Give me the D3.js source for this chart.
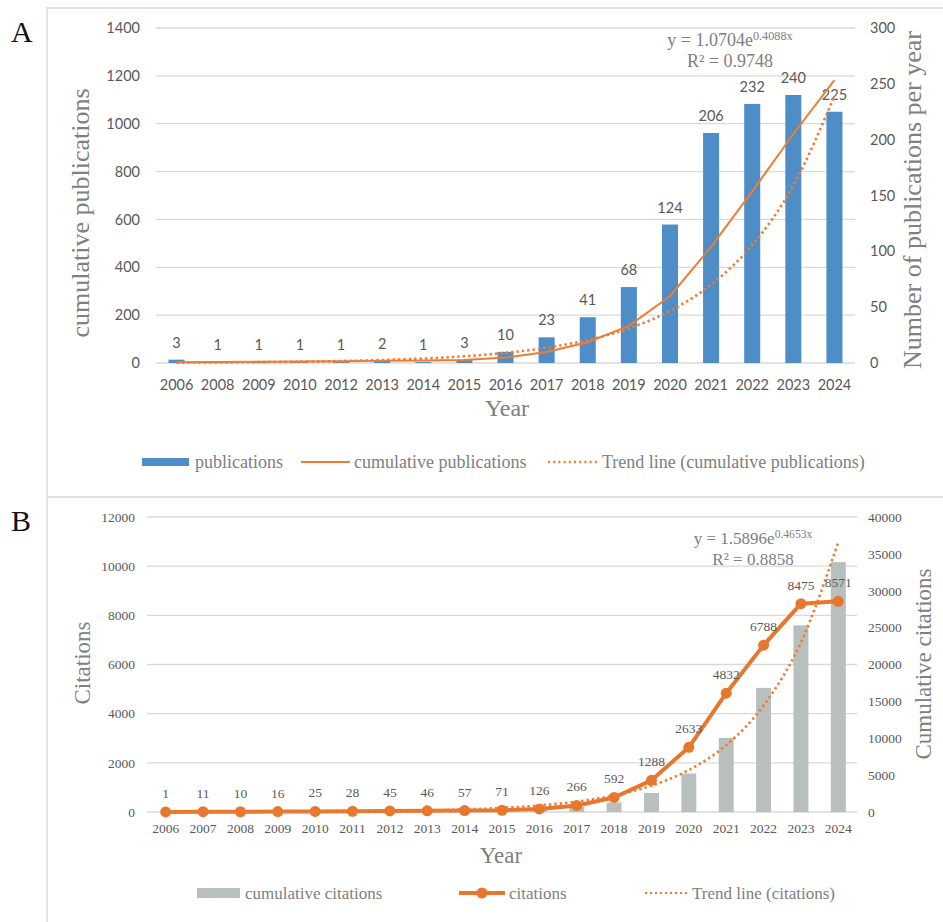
<!DOCTYPE html>
<html>
<head>
<meta charset="utf-8">
<script src="https://cdn.jsdelivr.net/npm/d3@7"></script>
<style>
  body { margin: 0; background: #fff; }
  svg { display: block; }
  .sans { font-family: Lato, "Liberation Sans", sans-serif; }
  .serif { font-family: "Liberation Serif", "Times New Roman", serif; }
</style>
</head>
<body>
<div id="chart"></div>
<script>
// ---- panel A data ----
const yearsA = ["2006","2008","2009","2010","2012","2013","2014","2015","2016",
  "2017","2018","2019","2020","2021","2022","2023","2024"];
const publications = [3,1,1,1,1,2,1,3,10,23,41,68,124,206,232,240,225];
const cumulativePublications = [3,4,5,6,7,9,10,13,23,46,87,155,279,485,717,957,1182];
const trendPublications = [1.6,2.4,3.6,5.5,8.3,12.4,18.7,28.2,42.4,63.8,96.1,144.5,217.5,327.4,492.7,741.6,1116];
const ticksCumPub = [0,200,400,600,800,1000,1200,1400];
const ticksPubYear = [0,50,100,150,200,250,300];

// ---- panel B data ----
const yearsB = ["2006","2007","2008","2009","2010","2011","2012","2013","2014","2015",
  "2016","2017","2018","2019","2020","2021","2022","2023","2024"];
const citations = [1,11,10,16,25,28,45,46,57,71,126,266,592,1288,2633,4832,6788,8475,8571];
const cumulativeCitations = [1,12,22,38,63,91,136,182,239,310,436,702,1294,2582,5215,10047,16835,25310,33881];
const trendCitations = [2.5,4.0,6.4,10.2,16.3,25.9,41.3,65.8,104.7,166.8,265.6,423.0,673.6,1072.8,1708,2720,4332,6899,10987];
const ticksCitations = [0,2000,4000,6000,8000,10000,12000];
const ticksCumCit = [0,5000,10000,15000,20000,25000,30000,35000,40000];

const W = 943, H = 922;
const orange = "#ed7d31";
const grid = "#d9d9d9";
const tickColor = "#595959";
const titleColor = "#808080";
const fmt = d3.format("d");

const svg = d3.select("#chart").append("svg")
  .attr("width", W).attr("height", H);
svg.append("rect").attr("width", W).attr("height", H).attr("fill", "#fff");

// panel frames
svg.append("rect").attr("x", 47).attr("y", 8).attr("width", 910).attr("height", 489)
  .attr("fill", "none").attr("stroke", "#e3e3e3").attr("stroke-width", 2);
svg.append("rect").attr("x", 47).attr("y", 497).attr("width", 910).attr("height", 440)
  .attr("fill", "none").attr("stroke", "#e3e3e3").attr("stroke-width", 2);

svg.append("text").attr("class", "serif").attr("x", 11).attr("y", 42)
  .attr("font-size", 30).attr("fill", "#111").text("A");
svg.append("text").attr("class", "serif").attr("x", 11).attr("y", 531)
  .attr("font-size", 30).attr("fill", "#111").text("B");

function gridLines(g, scale, ticks, x0, x1) {
  g.append("g").selectAll("line").data(ticks).join("line")
    .attr("x1", x0).attr("x2", x1)
    .attr("y1", d => scale(d)).attr("y2", d => scale(d))
    .attr("stroke", grid).attr("stroke-width", 1.3);
}

function styleAxis(g, cls, size) {
  g.select(".domain").remove();
  g.selectAll("text").attr("class", cls).attr("font-size", size).attr("fill", tickColor);
}

function equation(g, x, y, a, b, r2, size) {
  const t = g.append("text").attr("class", "serif").attr("x", x).attr("y", y)
    .attr("text-anchor", "middle").attr("font-size", size).attr("fill", titleColor);
  t.append("tspan").text(`y = ${a}e`);
  t.append("tspan").attr("font-size", size * 0.68).attr("dy", -size * 0.33).text(`${b}x`);
  g.append("text").attr("class", "serif").attr("x", x).attr("y", y + 21)
    .attr("text-anchor", "middle").attr("font-size", size).attr("fill", titleColor)
    .text(`R\u00B2 = ${r2}`);
}

// ================= panel A =================
function drawPanelA() {
  const g = svg.append("g");
  const x = d3.scaleBand().domain(yearsA).range([156, 855]).paddingInner(0.61).paddingOuter(0.305);
  const yL = d3.scaleLinear().domain([0, 1400]).range([363, 28]);
  const yR = d3.scaleLinear().domain([0, 300]).range([363, 28]);
  const cx = d => x(d) + x.bandwidth() / 2;

  gridLines(g, yL, ticksCumPub, 156, 855);

  g.append("g").attr("transform", "translate(156,0)")
    .call(d3.axisLeft(yL).tickValues(ticksCumPub).tickFormat(fmt).tickSize(0).tickPadding(16))
    .call(a => styleAxis(a, "sans", 14.5));
  g.append("g").attr("transform", "translate(855,0)")
    .call(d3.axisRight(yR).tickValues(ticksPubYear).tickFormat(fmt).tickSize(0).tickPadding(15))
    .call(a => styleAxis(a, "sans", 14.5));
  g.append("g").attr("transform", "translate(0,363)")
    .call(d3.axisBottom(x).tickSize(0).tickPadding(17))
    .call(a => styleAxis(a, "sans", 14.5));

  g.append("g").selectAll("rect").data(yearsA).join("rect")
    .attr("x", d => x(d)).attr("width", x.bandwidth())
    .attr("y", (d, i) => yR(publications[i]))
    .attr("height", (d, i) => yR(0) - yR(publications[i]))
    .attr("fill", "#4f8dc6");

  g.append("g").selectAll("text").data(yearsA).join("text")
    .attr("class", "sans").attr("font-size", 14.5).attr("fill", tickColor)
    .attr("text-anchor", "middle")
    .attr("x", d => cx(d))
    .attr("y", (d, i) => yR(publications[i]) - 12)
    .text((d, i) => publications[i]);

  const line = d3.line().x((d, i) => cx(yearsA[i])).y(d => yL(d));
  g.append("path").datum(cumulativePublications)
    .attr("d", line).attr("fill", "none").attr("stroke", orange).attr("stroke-width", 2);
  g.append("path").datum(trendPublications)
    .attr("d", line.curve(d3.curveMonotoneX)).attr("fill", "none").attr("stroke", orange)
    .attr("stroke-width", 2.6).attr("stroke-dasharray", "2.4,3");

  equation(g, 730, 46, "1.0704", "0.4088", "0.9748", 18);

  g.append("text").attr("class", "serif").attr("font-size", 26).attr("fill", titleColor)
    .attr("text-anchor", "middle")
    .attr("transform", "translate(89,213) rotate(-90)").text("cumulative publications");
  g.append("text").attr("class", "serif").attr("font-size", 26).attr("fill", titleColor)
    .attr("text-anchor", "middle")
    .attr("transform", "translate(921,200) rotate(-90)").text("Number of publications per year");
  g.append("text").attr("class", "serif").attr("font-size", 24).attr("fill", titleColor)
    .attr("text-anchor", "middle").attr("x", 507).attr("y", 416).text("Year");

  // legend
  const ly = 462;
  const lg = g.append("g").attr("class", "serif").attr("font-size", 18).attr("fill", titleColor);
  lg.append("rect").attr("x", 142).attr("y", ly - 4).attr("width", 47).attr("height", 8).attr("fill", "#4f8dc6");
  lg.append("text").attr("x", 195).attr("y", ly + 6).text("publications");
  lg.append("line").attr("x1", 301).attr("x2", 350).attr("y1", ly).attr("y2", ly)
    .attr("stroke", orange).attr("stroke-width", 2);
  lg.append("text").attr("x", 354).attr("y", ly + 6).text("cumulative publications");
  lg.append("line").attr("x1", 548).attr("x2", 597).attr("y1", ly).attr("y2", ly)
    .attr("stroke", orange).attr("stroke-width", 2.4).attr("stroke-dasharray", "2,3.2");
  lg.append("text").attr("x", 602).attr("y", ly + 6).text("Trend line (cumulative publications)");
}

// ================= panel B =================
function drawPanelB() {
  const g = svg.append("g");
  const x = d3.scaleBand().domain(yearsB).range([147, 857]).paddingInner(0.6).paddingOuter(0.3);
  const yL = d3.scaleLinear().domain([0, 12000]).range([812, 517]);
  const yR = d3.scaleLinear().domain([0, 40000]).range([812, 517]);
  const cx = d => x(d) + x.bandwidth() / 2;

  gridLines(g, yL, ticksCitations, 147, 857);

  g.append("g").attr("transform", "translate(147,0)")
    .call(d3.axisLeft(yL).tickValues(ticksCitations).tickFormat(fmt).tickSize(0).tickPadding(12))
    .call(a => styleAxis(a, "serif", 13.5));
  g.append("g").attr("transform", "translate(857,0)")
    .call(d3.axisRight(yR).tickValues(ticksCumCit).tickFormat(fmt).tickSize(0).tickPadding(11))
    .call(a => styleAxis(a, "serif", 13.5));
  g.append("g").attr("transform", "translate(0,812)")
    .call(d3.axisBottom(x).tickSize(0).tickPadding(11))
    .call(a => styleAxis(a, "serif", 13.5));

  g.append("g").selectAll("rect").data(yearsB).join("rect")
    .attr("x", d => x(d)).attr("width", x.bandwidth())
    .attr("y", (d, i) => yR(cumulativeCitations[i]))
    .attr("height", (d, i) => yR(0) - yR(cumulativeCitations[i]))
    .attr("fill", "#b9bfbd");

  const line = d3.line().x((d, i) => cx(yearsB[i])).y(d => yL(d));
  g.append("path").datum(citations)
    .attr("d", line).attr("fill", "none").attr("stroke", "#e8772e").attr("stroke-width", 4)
    .attr("stroke-linejoin", "round");
  g.append("g").selectAll("circle").data(yearsB).join("circle")
    .attr("cx", d => cx(d)).attr("cy", (d, i) => yL(citations[i])).attr("r", 5.5)
    .attr("fill", "#e8772e");

  g.append("path").datum(trendCitations)
    .attr("d", line.curve(d3.curveMonotoneX)).attr("fill", "none").attr("stroke", orange)
    .attr("stroke-width", 2.6).attr("stroke-dasharray", "2.4,3");

  g.append("g").selectAll("text").data(yearsB).join("text")
    .attr("class", "serif").attr("font-size", 13.5).attr("fill", tickColor)
    .attr("text-anchor", "middle")
    .attr("x", d => cx(d))
    .attr("y", (d, i) => yL(citations[i]) - 14)
    .text((d, i) => citations[i]);

  equation(g, 753, 544, "1.5896", "0.4653", "0.8858", 17);

  g.append("text").attr("class", "serif").attr("font-size", 23).attr("fill", titleColor)
    .attr("text-anchor", "middle")
    .attr("transform", "translate(90,663) rotate(-90)").text("Citations");
  g.append("text").attr("class", "serif").attr("font-size", 23).attr("fill", titleColor)
    .attr("text-anchor", "middle")
    .attr("transform", "translate(931,664) rotate(-90)").text("Cumulative citations");
  g.append("text").attr("class", "serif").attr("font-size", 23).attr("fill", titleColor)
    .attr("text-anchor", "middle").attr("x", 501).attr("y", 863).text("Year");

  // legend
  const ly = 893;
  const lg = g.append("g").attr("class", "serif").attr("font-size", 17).attr("fill", titleColor);
  lg.append("rect").attr("x", 197).attr("y", ly - 5).attr("width", 43).attr("height", 10).attr("fill", "#b9bfbd");
  lg.append("text").attr("x", 245).attr("y", ly + 6).text("cumulative citations");
  lg.append("line").attr("x1", 459).attr("x2", 505).attr("y1", ly).attr("y2", ly)
    .attr("stroke", "#e8772e").attr("stroke-width", 4);
  lg.append("circle").attr("cx", 482).attr("cy", ly).attr("r", 5.5).attr("fill", "#e8772e");
  lg.append("text").attr("x", 509).attr("y", ly + 6).text("citations");
  lg.append("line").attr("x1", 645).attr("x2", 688).attr("y1", ly).attr("y2", ly)
    .attr("stroke", orange).attr("stroke-width", 2.2).attr("stroke-dasharray", "2,3");
  lg.append("text").attr("x", 692).attr("y", ly + 6).text("Trend line (citations)");
}

drawPanelA();
drawPanelB();
</script>
</body>
</html>
